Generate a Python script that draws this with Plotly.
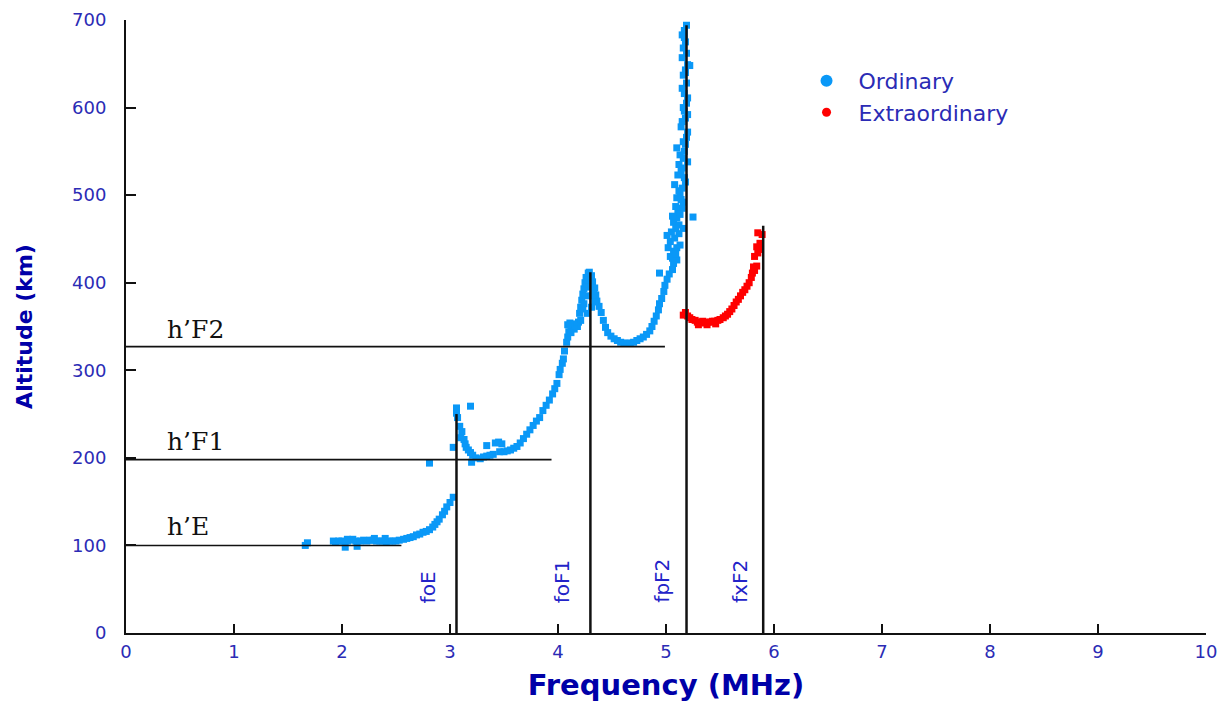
import plotly.graph_objects as go

# ---------------- data ----------------
ordinary_freq = [
    1.66, 1.68, 1.92, 1.94, 1.97, 2.00, 2.03, 2.05, 2.08, 2.10, 2.13, 2.14, 2.17, 2.20, 2.23, 2.26, 2.29,
    2.32, 2.35, 2.38, 2.41, 2.44, 2.47, 2.50, 2.53, 2.57, 2.60, 2.63, 2.66, 2.69, 2.72, 2.75, 2.78, 2.81,
    2.84, 2.86, 2.88, 2.90, 2.93, 2.95, 2.97, 3.00, 3.03, 2.81,
    3.03, 3.06, 3.06, 3.07, 3.19, 3.09, 3.11, 3.10, 3.13, 3.14, 3.15, 3.17, 3.19, 3.21, 3.20, 3.24, 3.28,
    3.31, 3.34, 3.34, 3.37, 3.40, 3.42, 3.45, 3.48, 3.46, 3.50, 3.53, 3.56, 3.59, 3.62, 3.65, 3.68, 3.71,
    3.74, 3.77, 3.80, 3.83, 3.86, 3.89, 3.92, 3.95, 3.97, 3.99, 4.01, 4.02, 4.04, 4.05, 4.06, 4.08, 4.09,
    4.10, 4.12, 4.14, 4.17, 4.19, 4.21, 4.20, 4.21, 4.22, 4.23, 4.24, 4.25, 4.26, 4.28, 4.29, 4.31, 4.32,
    4.34, 4.35, 4.36, 4.38, 4.40, 4.42, 4.44, 4.46, 4.49, 4.52, 4.55, 4.58, 4.61, 4.64, 4.67, 4.70, 4.73,
    4.76, 4.79, 4.82, 4.85, 4.87, 4.89, 4.91, 4.93, 4.94, 4.96, 4.98, 4.99, 5.01, 4.94, 5.03, 5.06, 5.07,
    5.10, 4.23, 4.26, 4.27, 4.30, 4.32, 4.34, 4.31, 4.27, 4.18, 4.15, 4.12,
    5.04, 5.07, 5.02, 5.10, 5.13, 5.04, 5.08, 5.01, 5.12, 5.16, 5.07, 5.12, 5.10, 5.25, 5.11, 5.15, 5.16,
    5.10, 5.13, 5.15, 5.08, 5.18, 5.11, 5.14, 5.15, 5.20, 5.13, 5.17, 5.10, 5.16, 5.19, 5.20, 5.14, 5.15,
    5.18, 5.20, 5.16, 5.19, 5.20, 5.17, 5.15, 5.19, 5.16, 5.18, 5.20, 5.15, 5.19, 5.16, 5.18, 5.15, 5.17,
    5.19, 5.22,
    5.06, 5.09, 5.05, 5.09, 5.06, 5.13, 5.09, 5.14, 5.12, 5.17, 5.12, 5.16, 5.18, 5.17, 5.18, 5.17,
    4.09, 4.11, 4.24, 4.28, 4.33, 2.30, 2.40, 2.05,
]
ordinary_alt = [
    100, 103, 105, 104, 105, 105, 98, 105, 106, 107, 105, 99, 105, 106, 105, 106, 106,
    105, 105, 105, 104, 105, 105, 105, 106, 107, 108, 109, 110, 112, 113, 115, 116, 118,
    121, 124, 127, 130, 135, 139, 144, 149, 155, 194,
    212, 257, 251, 246, 259, 236, 230, 223, 221, 216, 212, 209, 206, 203, 195, 200, 199,
    201, 202, 214, 203, 204, 217, 218, 216, 207, 207, 208, 209, 211, 213, 217, 222, 227,
    232, 237, 242, 246, 254, 260, 266, 273, 279, 285, 295, 301, 308, 313, 322, 332, 338,
    344, 349, 351, 353, 355, 357, 365, 372, 380, 387, 393, 400, 406, 411, 412, 408, 401,
    394, 386, 379, 373, 366, 357, 349, 343, 339, 336, 334, 332, 331, 331, 331, 332, 334,
    336, 338, 341, 345, 350, 356, 362, 369, 376, 382, 390, 397, 404, 411, 410, 415, 422,
    426, 370, 385, 398, 395, 385, 378, 372, 365, 350, 347, 343,
    430, 436, 440, 440, 443, 447, 451, 454, 456, 462, 469, 466, 474, 475, 481, 485, 492,
    497, 502, 508, 512, 515, 523, 527, 531, 538, 546, 550, 554, 561, 566, 572, 578, 584,
    588, 592, 600, 605, 611, 616, 622, 628, 637, 643, 649, 657, 662, 668, 675, 683, 688,
    694, 648,
    428, 433, 458, 462, 476, 478, 487, 495, 505, 520, 535, 542, 558, 596, 640, 680,
    352, 354, 376, 403, 390, 108, 108, 107,
]

extra_freq = [
    5.16, 5.18, 5.20, 5.22, 5.24, 5.27, 5.29, 5.31, 5.34, 5.36, 5.39, 5.41, 5.43, 5.45, 5.48, 5.50, 5.53,
    5.55, 5.57, 5.59, 5.61, 5.63, 5.65, 5.67, 5.69, 5.71, 5.73, 5.75, 5.77, 5.79, 5.80, 5.82, 5.84, 5.82,
    5.85, 5.84, 5.86, 5.87, 5.85, 5.89, 5.30, 5.38, 5.46, 5.81,
]
extra_alt = [
    363, 366, 362, 360, 358, 357, 355, 355, 356, 354, 355, 355, 356, 356, 357, 358, 360,
    362, 364, 367, 370, 374, 378, 381, 385, 389, 392, 396, 400, 406, 411, 414, 419, 430,
    434, 441, 438, 445, 457, 455, 352, 352, 353, 418,
]

# critical frequencies (vertical markers)
crit_labels = ["foE", "foF1", "fpF2", "fxF2"]
crit_freq = [3.06, 4.30, 5.19, 5.90]
crit_top = [250, 412, 694, 465]

# virtual heights (horizontal markers)
height_labels = ["h\u2019E", "h\u2019F1", "h\u2019F2"]
height_alt = [100, 198, 327]
height_end = [2.55, 3.94, 4.99]

x_ticks = list(range(0, 11))
y_ticks = list(range(0, 701, 100))

# ---------------- styles ----------------
BLUE_PTS = "#0a98f7"
RED_PTS = "#ff0000"
TICK_BLUE = "#2b2bb5"
TITLE_BLUE = "#0000a8"
LABEL_BLUE = "#2323c8"

fig = go.Figure()

fig.add_trace(go.Scatter(
    x=ordinary_freq, y=ordinary_alt, mode="markers", showlegend=False,
    marker=dict(symbol="square", size=7, color=BLUE_PTS, line=dict(width=0)),
))
fig.add_trace(go.Scatter(
    x=extra_freq, y=extra_alt, mode="markers", showlegend=False,
    marker=dict(symbol="square", size=7, color=RED_PTS, line=dict(width=0)),
))

# legend entries
fig.add_trace(go.Scatter(
    x=[None], y=[None], mode="markers", name="Ordinary", legendgroup="o",
    marker=dict(symbol="circle", size=12, color=BLUE_PTS),
))
fig.add_trace(go.Scatter(
    x=[None], y=[None], mode="markers", name="Extraordinary", legendgroup="x",
    marker=dict(symbol="circle", size=9, color=RED_PTS),
))

shapes = []
annotations = []
for lab, f, top in zip(crit_labels, crit_freq, crit_top):
    shapes.append(dict(type="line", xref="x", yref="y", x0=f, x1=f, y0=0, y1=top,
                       line=dict(color="#111111", width=2.5), layer="above"))
for lab, h, end in zip(height_labels, height_alt, height_end):
    shapes.append(dict(type="line", xref="x", yref="y", x0=0, x1=end, y0=h, y1=h,
                       line=dict(color="#111111", width=1.6), layer="above"))

# text labels for critical frequencies (rotated)
crit_label_x = [2.80, 4.04, 4.96, 5.69]
for lab, fx in zip(crit_labels, crit_label_x):
    annotations.append(dict(x=fx, y=32, xref="x", yref="y", text=lab, showarrow=False,
                            textangle=-90, xanchor="center", yanchor="bottom",
                            font=dict(family="DejaVu Sans", size=20, color=LABEL_BLUE)))
# text labels for virtual heights
height_label_y = [122, 219, 347]
for lab, hy in zip(height_labels, height_label_y):
    annotations.append(dict(x=0.36, y=hy, xref="x", yref="y", text=lab, showarrow=False,
                            xanchor="left", yanchor="middle",
                            font=dict(family="DejaVu Serif", size=25, color="#111111")))

fig.update_layout(
    width=1231, height=702,
    margin=dict(l=126, r=25, t=20, b=69),
    paper_bgcolor="white", plot_bgcolor="white",
    shapes=shapes, annotations=annotations,
    showlegend=True,
    legend=dict(x=0.619, y=0.935, xanchor="left", yanchor="top",
                font=dict(family="DejaVu Sans", size=22, color=TICK_BLUE),
                itemwidth=54, tracegroupgap=0, bgcolor="rgba(0,0,0,0)"),
    xaxis=dict(
        range=[0, 10], tickvals=x_ticks, ticktext=[str(v) for v in x_ticks],
        automargin=False,
        showgrid=False, zeroline=False, showline=True, linecolor="#111111", linewidth=2,
        ticks="inside", ticklen=9, tickwidth=2, tickcolor="#111111",
        ticklabelstandoff=1,
        tickfont=dict(family="DejaVu Sans", size=18, color=TICK_BLUE),
        title=dict(text="<b>Frequency (MHz)</b>", standoff=14,
                   font=dict(family="DejaVu Sans", size=29, color=TITLE_BLUE)),
    ),
    yaxis=dict(
        range=[0, 700], tickvals=y_ticks, ticktext=[str(v) for v in y_ticks],
        automargin=False,
        showgrid=False, zeroline=False, showline=True, linecolor="#111111", linewidth=2,
        ticks="inside", ticklen=10, tickwidth=2, tickcolor="#111111",
        ticklabelstandoff=14,
        tickfont=dict(family="DejaVu Sans", size=18, color=TICK_BLUE),
        title=dict(text="<b>Altitude (km)</b>", standoff=33,
                   font=dict(family="DejaVu Sans", size=22, color=TITLE_BLUE)),
    ),
)

fig.write_html("out.html")
